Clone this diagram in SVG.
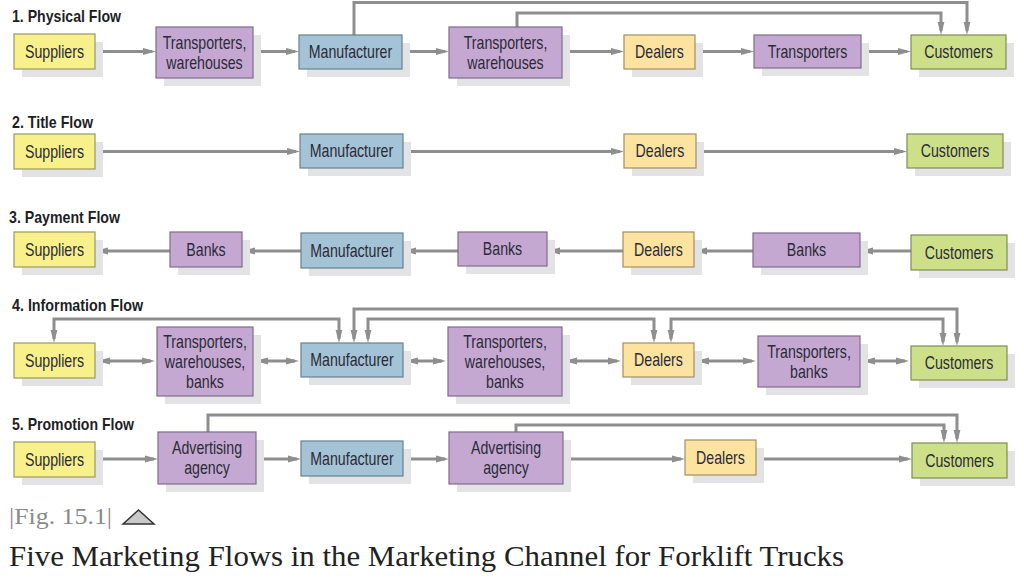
<svg xmlns="http://www.w3.org/2000/svg" width="1024" height="583" viewBox="0 0 1024 583">
<style>
.sh{fill:#e3e3e5}
.box{stroke-width:1.2}
.yel{fill:#f8f08a;stroke:#9c9764}
.pur{fill:#c5a8d2;stroke:#7e6d8a}
.blu{fill:#a5c3d6;stroke:#66808f}
.org{fill:#fce39f;stroke:#a08f65}
.grn{fill:#cedf8a;stroke:#7e8e55}
.lbl{font-family:"Liberation Sans",Arial,sans-serif;font-size:17.5px;fill:#2b2b38;text-anchor:middle}
.ttl{font-family:"Liberation Sans",Arial,sans-serif;font-size:16.5px;font-weight:bold;fill:#1e1e26}
.cn path{fill:none;stroke:#8e8e8e;stroke-width:3}
.ar{marker-end:url(#ah)}
.dbl{marker-start:url(#ah);marker-end:url(#ah)}
</style>
<defs>
<marker id="ah" markerUnits="userSpaceOnUse" viewBox="0 0 14 8" markerWidth="14" markerHeight="8" refX="9" refY="4" orient="auto-start-reverse">
<path d="M0,0.6 L13,4 L0,7.4 z" fill="#8e8e8e"/>
</marker>
</defs>
<rect width="1024" height="583" fill="#ffffff"/>

<g id="titles">
<text class="ttl" x="12" y="22" textLength="109" lengthAdjust="spacingAndGlyphs">1. Physical Flow</text>
<text class="ttl" x="12" y="128" textLength="81" lengthAdjust="spacingAndGlyphs">2. Title Flow</text>
<text class="ttl" x="9" y="223" textLength="111" lengthAdjust="spacingAndGlyphs">3. Payment Flow</text>
<text class="ttl" x="12" y="311" textLength="131" lengthAdjust="spacingAndGlyphs">4. Information Flow</text>
<text class="ttl" x="12" y="430" textLength="122" lengthAdjust="spacingAndGlyphs">5. Promotion Flow</text>
</g>

<g id="connectors" class="cn">
<path class="ar" d="M95,51.5 H152"/>
<path class="ar" d="M253,51.5 H295"/>
<path class="ar" d="M402,51.5 H445"/>
<path class="ar" d="M562,51.5 H620"/>
<path class="ar" d="M695,51.5 H750"/>
<path class="ar" d="M861,51.5 H907"/>
<path class="ar" d="M354,35 V2.5 H967 V31"/>
<path class="ar" d="M517,27 V13 H941 V31"/>

<path class="ar" d="M95,151.5 H296"/>
<path class="ar" d="M403,151.5 H620"/>
<path class="ar" d="M696,151.5 H903"/>

<path class="ar" d="M170,251 H99"/>
<path class="ar" d="M301,251 H246"/>
<path class="ar" d="M458,251 H407"/>
<path class="ar" d="M623,251 H551"/>
<path class="ar" d="M753,251 H698"/>
<path class="ar" d="M911,251 H864"/>

<path class="dbl" d="M101,361 H151"/>
<path class="dbl" d="M259,361 H295"/>
<path class="dbl" d="M409,361 H442"/>
<path class="dbl" d="M568,361 H617"/>
<path class="dbl" d="M700,361 H752"/>
<path class="dbl" d="M866,361 H905"/>
<path class="dbl" d="M54,339 V319 H339 V339"/>
<path class="dbl" d="M354,339 V309 H957 V342"/>
<path class="dbl" d="M368,339 V319 H654 V339"/>
<path class="dbl" d="M671,339 V319 H943 V342"/>

<path class="ar" d="M95,459 H154"/>
<path class="ar" d="M256,459 H297"/>
<path class="ar" d="M403,459 H445"/>
<path class="ar" d="M563,459 H681"/>
<path class="ar" d="M756,459 H908"/>
<path class="ar" d="M208,432 V415 H957 V439"/>
<path class="ar" d="M516,432 V425 H944 V439"/>
</g>

<!-- Row 1 -->
<g id="r1-suppliers"><rect class="sh" x="22" y="42" width="81" height="35"/><rect class="box yel" x="14" y="34" width="81" height="35"/><text class="lbl" transform="translate(54.5,57.8) scale(0.81,1)">Suppliers</text></g>
<g id="r1-transporters-warehouses-a"><rect class="sh" x="164" y="35" width="97" height="51"/><rect class="box pur" x="156" y="27" width="97" height="51"/><text class="lbl" transform="translate(204.5,48.8) scale(0.81,1)"><tspan x="0" y="0">Transporters,</tspan><tspan x="0" y="20">warehouses</tspan></text></g>
<g id="r1-manufacturer"><rect class="sh" x="307" y="43" width="103" height="34"/><rect class="box blu" x="299" y="35" width="103" height="34"/><text class="lbl" transform="translate(350.5,58.3) scale(0.81,1)">Manufacturer</text></g>
<g id="r1-transporters-warehouses-b"><rect class="sh" x="457" y="35" width="113" height="51"/><rect class="box pur" x="449" y="27" width="113" height="51"/><text class="lbl" transform="translate(505.5,48.8) scale(0.81,1)"><tspan x="0" y="0">Transporters,</tspan><tspan x="0" y="20">warehouses</tspan></text></g>
<g id="r1-dealers"><rect class="sh" x="632" y="43" width="71" height="34"/><rect class="box org" x="624" y="35" width="71" height="34"/><text class="lbl" transform="translate(659.5,58.3) scale(0.81,1)">Dealers</text></g>
<g id="r1-transporters"><rect class="sh" x="762" y="43" width="107" height="33"/><rect class="box pur" x="754" y="35" width="107" height="33"/><text class="lbl" transform="translate(807.5,57.8) scale(0.81,1)">Transporters</text></g>
<g id="r1-customers"><rect class="sh" x="919" y="43" width="95" height="34"/><rect class="box grn" x="911" y="35" width="95" height="34"/><text class="lbl" transform="translate(958.5,58.3) scale(0.81,1)">Customers</text></g>

<!-- Row 2 -->
<g id="r2-suppliers"><rect class="sh" x="22" y="142" width="81" height="35"/><rect class="box yel" x="14" y="134" width="81" height="35"/><text class="lbl" transform="translate(54.5,157.8) scale(0.81,1)">Suppliers</text></g>
<g id="r2-manufacturer"><rect class="sh" x="308" y="142" width="103" height="34"/><rect class="box blu" x="300" y="134" width="103" height="34"/><text class="lbl" transform="translate(351.5,157.3) scale(0.81,1)">Manufacturer</text></g>
<g id="r2-dealers"><rect class="sh" x="632" y="142" width="72" height="34"/><rect class="box org" x="624" y="134" width="72" height="34"/><text class="lbl" transform="translate(660,157.3) scale(0.81,1)">Dealers</text></g>
<g id="r2-customers"><rect class="sh" x="915" y="142" width="96" height="34"/><rect class="box grn" x="907" y="134" width="96" height="34"/><text class="lbl" transform="translate(955,157.3) scale(0.81,1)">Customers</text></g>

<!-- Row 3 -->
<g id="r3-suppliers"><rect class="sh" x="22" y="240" width="81" height="35"/><rect class="box yel" x="14" y="232" width="81" height="35"/><text class="lbl" transform="translate(54.5,255.8) scale(0.81,1)">Suppliers</text></g>
<g id="r3-banks-a"><rect class="sh" x="178" y="240" width="72" height="35"/><rect class="box pur" x="170" y="232" width="72" height="35"/><text class="lbl" transform="translate(206,255.8) scale(0.81,1)">Banks</text></g>
<g id="r3-manufacturer"><rect class="sh" x="309" y="241" width="102" height="35"/><rect class="box blu" x="301" y="233" width="102" height="35"/><text class="lbl" transform="translate(352,256.8) scale(0.81,1)">Manufacturer</text></g>
<g id="r3-banks-b"><rect class="sh" x="466" y="240" width="89" height="34"/><rect class="box pur" x="458" y="232" width="89" height="34"/><text class="lbl" transform="translate(502.5,255.3) scale(0.81,1)">Banks</text></g>
<g id="r3-dealers"><rect class="sh" x="631" y="240" width="71" height="35"/><rect class="box org" x="623" y="232" width="71" height="35"/><text class="lbl" transform="translate(658.5,255.8) scale(0.81,1)">Dealers</text></g>
<g id="r3-banks-c"><rect class="sh" x="761" y="241" width="107" height="34"/><rect class="box pur" x="753" y="233" width="107" height="34"/><text class="lbl" transform="translate(806.5,256.3) scale(0.81,1)">Banks</text></g>
<g id="r3-customers"><rect class="sh" x="919" y="243" width="96" height="35"/><rect class="box grn" x="911" y="235" width="96" height="35"/><text class="lbl" transform="translate(959,258.8) scale(0.81,1)">Customers</text></g>

<!-- Row 4 -->
<g id="r4-suppliers"><rect class="sh" x="22" y="351" width="81" height="35"/><rect class="box yel" x="14" y="343" width="81" height="35"/><text class="lbl" transform="translate(54.5,366.8) scale(0.81,1)">Suppliers</text></g>
<g id="r4-transporters-warehouses-banks-a"><rect class="sh" x="165" y="335" width="96" height="69"/><rect class="box pur" x="157" y="327" width="96" height="69"/><text class="lbl" transform="translate(205,347.8) scale(0.81,1)"><tspan x="0" y="0">Transporters,</tspan><tspan x="0" y="20">warehouses,</tspan><tspan x="0" y="40">banks</tspan></text></g>
<g id="r4-manufacturer"><rect class="sh" x="309" y="351" width="102" height="34"/><rect class="box blu" x="301" y="343" width="102" height="34"/><text class="lbl" transform="translate(352,366.3) scale(0.81,1)">Manufacturer</text></g>
<g id="r4-transporters-warehouses-banks-b"><rect class="sh" x="456" y="335" width="114" height="69"/><rect class="box pur" x="448" y="327" width="114" height="69"/><text class="lbl" transform="translate(505,347.8) scale(0.81,1)"><tspan x="0" y="0">Transporters,</tspan><tspan x="0" y="20">warehouses,</tspan><tspan x="0" y="40">banks</tspan></text></g>
<g id="r4-dealers"><rect class="sh" x="631" y="351" width="71" height="34"/><rect class="box org" x="623" y="343" width="71" height="34"/><text class="lbl" transform="translate(658.5,366.3) scale(0.81,1)">Dealers</text></g>
<g id="r4-transporters-banks"><rect class="sh" x="766" y="344" width="102" height="51"/><rect class="box pur" x="758" y="336" width="102" height="51"/><text class="lbl" transform="translate(809,357.8) scale(0.81,1)"><tspan x="0" y="0">Transporters,</tspan><tspan x="0" y="20">banks</tspan></text></g>
<g id="r4-customers"><rect class="sh" x="919" y="354" width="96" height="34"/><rect class="box grn" x="911" y="346" width="96" height="34"/><text class="lbl" transform="translate(959,369.3) scale(0.81,1)">Customers</text></g>

<!-- Row 5 -->
<g id="r5-suppliers"><rect class="sh" x="22" y="450" width="81" height="35"/><rect class="box yel" x="14" y="442" width="81" height="35"/><text class="lbl" transform="translate(54.5,465.8) scale(0.81,1)">Suppliers</text></g>
<g id="r5-advertising-agency-a"><rect class="sh" x="166" y="440" width="98" height="52"/><rect class="box pur" x="158" y="432" width="98" height="52"/><text class="lbl" transform="translate(207,454.3) scale(0.81,1)"><tspan x="0" y="0">Advertising</tspan><tspan x="0" y="20">agency</tspan></text></g>
<g id="r5-manufacturer"><rect class="sh" x="309" y="449" width="102" height="35"/><rect class="box blu" x="301" y="441" width="102" height="35"/><text class="lbl" transform="translate(352,464.8) scale(0.81,1)">Manufacturer</text></g>
<g id="r5-advertising-agency-b"><rect class="sh" x="457" y="440" width="114" height="52"/><rect class="box pur" x="449" y="432" width="114" height="52"/><text class="lbl" transform="translate(506,454.3) scale(0.81,1)"><tspan x="0" y="0">Advertising</tspan><tspan x="0" y="20">agency</tspan></text></g>
<g id="r5-dealers"><rect class="sh" x="693" y="448" width="71" height="35"/><rect class="box org" x="685" y="440" width="71" height="35"/><text class="lbl" transform="translate(720.5,463.8) scale(0.81,1)">Dealers</text></g>
<g id="r5-customers"><rect class="sh" x="920" y="451" width="95" height="35"/><rect class="box grn" x="912" y="443" width="95" height="35"/><text class="lbl" transform="translate(959.5,466.8) scale(0.81,1)">Customers</text></g>

<g id="caption">
<text x="9" y="524" font-family="'Liberation Serif',serif" font-size="24" fill="#8a8a8a" textLength="103" lengthAdjust="spacingAndGlyphs">|Fig. 15.1|</text>
<polygon points="123,524 138.5,510 154,524" fill="#c9c9c9" stroke="#333333" stroke-width="1.5" stroke-linejoin="miter"/>
<text x="9" y="566" font-family="'Liberation Serif',serif" font-size="30" fill="#222222" textLength="835" lengthAdjust="spacingAndGlyphs">Five Marketing Flows in the Marketing Channel for Forklift Trucks</text>
</g>
</svg>
